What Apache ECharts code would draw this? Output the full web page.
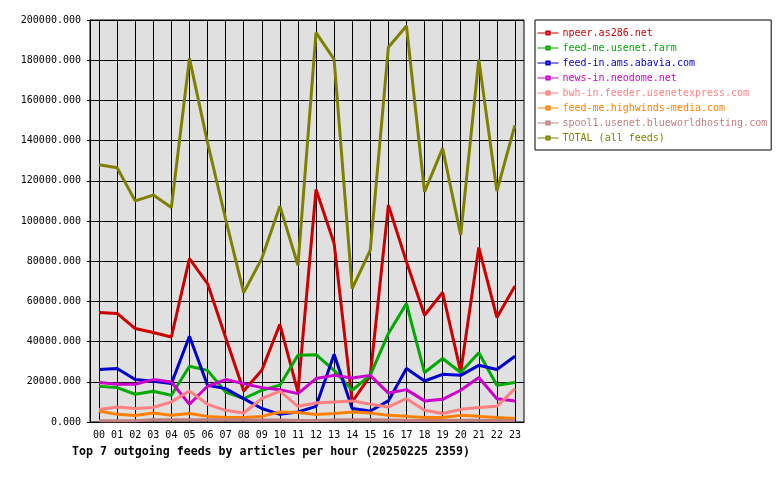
<!DOCTYPE html>
<html>
    <head>
        <meta charset="UTF-8" />
        <title>Top 7 outgoing feeds</title>
        <style>
            html,
            body {
                margin: 0;
                padding: 0;
                background: #fff;
            }
            #chart {
                width: 780px;
                height: 480px;
            }
        </style>
        <script src="https://cdn.jsdelivr.net/npm/echarts@6/dist/echarts.min.js"></script>
    </head>
    <body>
        <div id="chart"></div>
        <script>
            const hours = ["00", "01", "02", "03", "04", "05", "06", "07", "08", "09", "10", "11",
                "12", "13", "14", "15", "16", "17", "18", "19", "20", "21", "22", "23"];

            const npeer = [54500, 54000, 46500, 44500, 42300, 81300, 68900, 42000, 15400, 25700, 48600, 14900,
                115700, 88800, 10000, 23000, 107900, 79700, 53100, 64400, 24900, 86800, 52000, 67700];
            const usenetFarm = [17800, 17100, 13800, 15300, 13300, 27700, 25700, 14900, 11600, 15800, 18300, 33200,
                33500, 25700, 15800, 23300, 44000, 58900, 24600, 31600, 24600, 34400, 18300, 19600];
            const abavia = [26100, 26600, 21100, 20300, 19100, 42700, 18300, 16600, 11600, 6700, 3800, 5000,
                7800, 33700, 6700, 5500, 10500, 26600, 20400, 23700, 23200, 28200, 26100, 32700];
            const neodome = [19600, 18800, 18800, 21100, 19900, 8800, 17800, 21100, 19100, 17100, 16100, 14100,
                21600, 23200, 21900, 23200, 14400, 16100, 10500, 11300, 15800, 22100, 11600, 10500];
            const usenetExpress = [6200, 7500, 6700, 7200, 10000, 15400, 8800, 5800, 4500, 11600, 15400, 7800,
                9500, 10000, 10500, 8800, 7500, 11600, 5800, 4200, 6300, 7200, 7800, 16600];
            const highwinds = [5500, 3800, 3200, 4500, 3300, 4200, 2800, 2200, 2200, 2800, 5000, 4700,
                3700, 4200, 5000, 4500, 3300, 2800, 2200, 2200, 3300, 2800, 2200, 1800];
            const blueworld = [600, 600, 600, 1100, 1100, 1100, 1100, 1100, 1100, 1000, 1000, 800,
                800, 1000, 1100, 1100, 1000, 900, 800, 800, 900, 900, 800, 800];
            const total = [128000, 126500, 110000, 112900, 106700, 180900, 139000, 101000, 64400, 81300, 107400, 78000,
                193700, 180400, 66400, 85500, 186400, 197000, 114500, 136100, 93000, 180400, 114900, 147700];

            const feeds = [
                ["npeer.as286.net", npeer, "#cc0000"],
                ["feed-me.usenet.farm", usenetFarm, "#00aa00"],
                ["feed-in.ams.abavia.com", abavia, "#0000cc"],
                ["news-in.neodome.net", neodome, "#cc00cc"],
                ["bwh-in.feeder.usenetexpress.com", usenetExpress, "#ff8080"],
                ["feed-me.highwinds-media.com", highwinds, "#ff8000"],
                ["spool1.usenet.blueworldhosting.com", blueworld, "#c08080"],
                ["TOTAL (all feeds)", total, "#808000"],
            ];

            const mono = "DejaVu Sans Mono";
            const chart = echarts.init(document.getElementById("chart"));

            chart.setOption({
                animation: false,
                backgroundColor: "#fff",
                title: {
                    text: "Top 7 outgoing feeds by articles per hour (20250225 2359)",
                    left: 72,
                    top: 446,
                    padding: 0,
                    textStyle: { fontFamily: mono, fontSize: 11.6, fontWeight: "bold", color: "#000" },
                },
                legend: {
                    orient: "vertical",
                    left: 535,
                    top: 20,
                    padding: [8, 4, 7, 2],
                    itemGap: 5,
                    itemWidth: 21,
                    itemHeight: 4,
                    backgroundColor: "#fff",
                    borderColor: "#000",
                    borderWidth: 1,
                    lineStyle: { width: 1 },
                    textStyle: { fontFamily: mono, fontSize: 10, lineHeight: 10, padding: [0, 0, 0, -1] },
                    data: feeds.map(([name, , color]) => ({ name, textStyle: { color } })),
                },
                grid: {
                    left: 90,
                    right: 256,
                    top: 20,
                    bottom: 58,
                    show: true,
                    backgroundColor: "#e0e0e0",
                    borderColor: "#000",
                    borderWidth: 1,
                },
                xAxis: {
                    type: "category",
                    data: hours,
                    boundaryGap: true,
                    axisLine: { lineStyle: { color: "#000" } },
                    axisTick: { alignWithLabel: true, interval: 0, length: 3, lineStyle: { color: "#000" } },
                    axisLabel: { interval: 0, margin: 8, fontFamily: mono, fontSize: 10, color: "#000" },
                    splitLine: { show: true, alignWithLabel: true, interval: 0, lineStyle: { color: "#000", width: 1 } },
                },
                yAxis: {
                    type: "value",
                    min: 0,
                    max: 200000,
                    interval: 20000,
                    axisLine: { show: true, lineStyle: { color: "#000" } },
                    axisTick: { show: true, length: 3, lineStyle: { color: "#000" } },
                    axisLabel: {
                        margin: 9,
                        fontFamily: mono,
                        fontSize: 10,
                        color: "#000",
                        formatter: (v) => v.toFixed(3),
                    },
                    splitLine: { show: true, lineStyle: { color: "#000", width: 1 } },
                },
                series: feeds.map(([name, values, color]) => ({
                    name,
                    type: "line",
                    data: values,
                    color,
                    symbol: "emptyRect",
                    showSymbol: false,
                    lineStyle: { width: 3, color },
                    emphasis: { disabled: true },
                })),
            });
        </script>
    </body>
</html>
